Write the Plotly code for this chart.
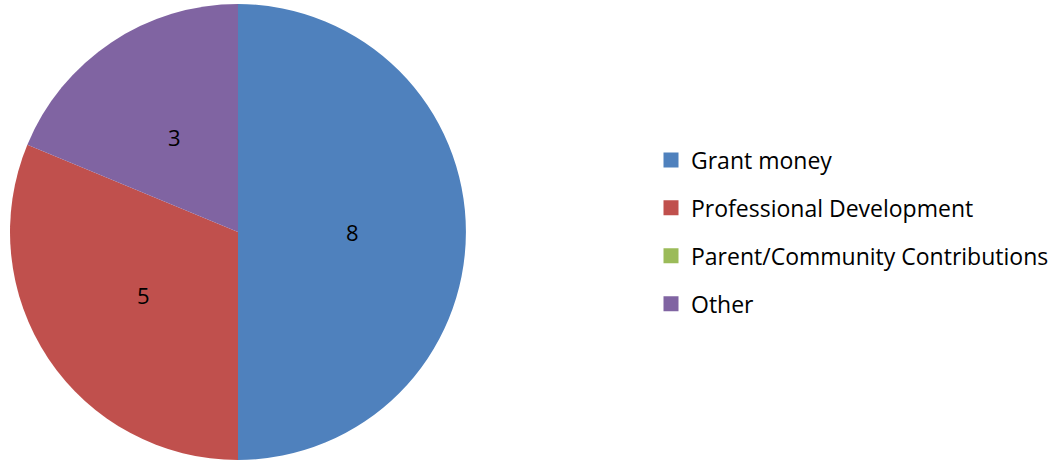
import math
import plotly.graph_objects as go

categories = ["Grant money", "Professional Development", "Parent/Community Contributions", "Other"]
values = [8, 5, 0, 3]
colors = ["#4F81BD", "#C0504D", "#9BBB59", "#8064A2"]

W, H = 1061, 461
FONT = "Open Sans"

# pie geometry (pixels)
CX, CY, R = 238, 232, 228
dom_x = [(CX - R) / W, (CX + R) / W]
dom_y = [1 - (CY + R) / H, 1 - (CY - R) / H]

fig = go.Figure()
fig.add_trace(go.Pie(
    labels=categories, values=values, textinfo="none",
    sort=False, direction="clockwise", rotation=0,
    marker=dict(colors=colors, line=dict(width=0)),
    domain=dict(x=dom_x, y=dom_y),
    showlegend=False, hoverinfo="label+value",
))

# data labels at half radius along each slice bisector (Excel "center" placement)
total = sum(values)
start = 0.0
for v in values:
    ang = 360.0 * v / total
    mid = math.radians(start + ang / 2)
    start += ang
    if v == 0:
        continue
    d = 0.5 * R
    px = CX + d * math.sin(mid)
    py = CY - d * math.cos(mid)
    fig.add_annotation(
        x=px / W, y=1 - py / H, xref="paper", yref="paper",
        text=str(v), showarrow=False, xanchor="center", yanchor="middle",
        font=dict(family=FONT, size=22, color="black"),
    )

for i, (c, col) in enumerate(zip(categories, colors)):
    fig.add_trace(go.Scatter(
        x=[None], y=[None], mode="markers", name=c,
        marker=dict(symbol="square", size=15, color=col),
        legendgroup=f"g{i}", showlegend=True,
    ))

fig.update_layout(
    width=W, height=H,
    margin=dict(l=0, r=0, t=0, b=0),
    paper_bgcolor="white", plot_bgcolor="white",
    xaxis=dict(visible=False), yaxis=dict(visible=False),
    legend=dict(x=651 / W, y=1 - 232 / H, xanchor="left", yanchor="middle",
                font=dict(family=FONT, size=23, color="black"),
                tracegroupgap=15, itemwidth=30),
    showlegend=True,
)

fig.write_html("out.html", config={"displayModeBar": False},
               post_script="document.body.style.margin='0';")
